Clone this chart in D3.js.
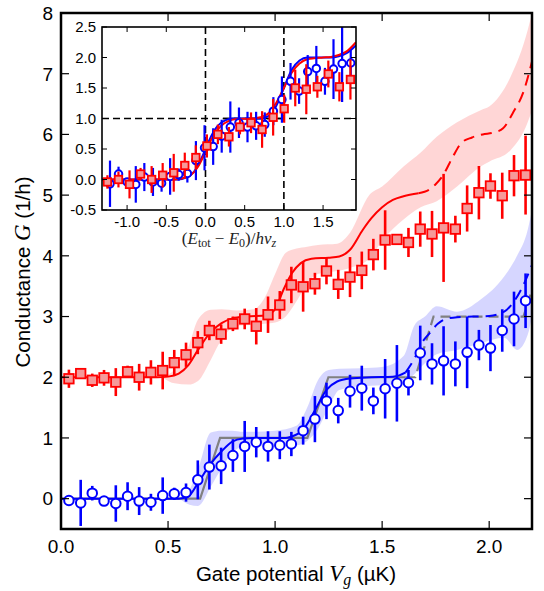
<!DOCTYPE html>
<html><head><meta charset="utf-8">
<script src="https://cdn.jsdelivr.net/npm/d3@7"></script>
<style>body{margin:0;background:#fff}svg{display:block}</style>
</head><body>
<script>
// ---------- DATA ----------
const gateV = [0.037,0.092,0.146,0.201,0.256,0.311,0.365,0.420,0.475,0.529,0.584,0.639,0.693,0.748,0.803,0.858,0.912,0.967,1.022,1.076,1.131,1.186,1.240,1.295,1.350,1.405,1.459,1.514,1.569,1.623,1.678,1.733,1.787,1.842,1.897,1.952,2.006,2.061,2.116,2.170];
const redG = [1.975,2.06,1.95,1.99,1.92,2.09,2.0,2.08,2.11,2.24,2.37,2.57,2.77,2.71,2.88,2.96,2.84,3.03,3.19,3.52,3.49,3.54,3.75,3.53,3.65,3.76,4.02,4.26,4.27,4.22,4.44,4.36,4.46,4.44,4.78,5.04,5.15,4.99,5.32,5.33];
const redErr = [0.15,0.06,0.11,0.13,0.23,0.1,0.22,0.2,0.31,0.21,0.2,0.19,0.16,0.16,0.12,0.17,0.3,0.3,0.23,0.30,0.41,0.18,0.22,0.24,0.33,0.31,0.26,0.49,0.04,0.24,0.29,0.38,0.89,0.22,0.38,0.44,0.21,0.38,0.34,0.65];
const blueG = [-0.03,-0.07,0.09,-0.04,-0.08,0.04,-0.04,-0.06,0.05,0.08,0.1,0.31,0.52,0.54,0.71,0.86,0.93,0.86,0.88,0.9,1.12,1.31,1.61,1.45,1.77,1.82,1.61,1.81,1.9,1.91,2.4,2.22,2.27,2.22,2.41,2.53,2.48,2.77,2.96,3.26];
const blueErr = [0.05,0.38,0.12,0.06,0.3,0.23,0.23,0.14,0.3,0.1,0.15,0.32,0.37,0.3,0.27,0.42,0.25,0.25,0.23,0.2,0.23,0.38,0.3,0.21,0.27,0.37,0.22,0.49,0.63,0.21,0.45,0.34,0.57,0.37,0.59,0.25,0.38,0.35,0.45,0.45];

// fitted curves (V, G)
const redFitV = [0,0.45,0.5,0.55,0.595,0.64,0.696,0.75,0.80,0.87,0.96,1.0,1.04,1.08,1.12,1.17,1.25,1.3,1.35,1.41,1.45,1.5,1.55,1.6,1.67];
const redFitG = [2.0,2.0,2.01,2.06,2.2,2.45,2.73,2.89,2.97,3.0,3.02,3.12,3.45,3.72,3.88,3.95,3.97,3.99,4.1,4.43,4.62,4.8,4.92,4.98,5.03];
const redDashV = [1.67,1.72,1.75,1.785,1.83,1.87,1.92,1.97,2.02,2.065,2.11,2.16,2.2];
const redDashG = [5.03,5.09,5.18,5.33,5.63,5.86,5.95,6.0,6.03,6.1,6.35,6.7,7.2];
const blueFitV = [0,0.55,0.595,0.64,0.696,0.75,0.8,0.85,0.9,1.05,1.09,1.125,1.187,1.24,1.29,1.35,1.45,1.55,1.58,1.61];
const blueFitG = [0,0.0,0.04,0.26,0.56,0.78,0.94,0.99,1.0,1.0,1.04,1.11,1.46,1.79,1.93,1.98,2.0,2.01,2.03,2.08];
const blueDashV = [1.61,1.65,1.69,1.72,1.76,1.79,1.85,2.0,2.07,2.11,2.15,2.2];
const blueDashG = [2.08,2.3,2.59,2.72,2.88,2.95,2.99,3.01,3.08,3.22,3.45,3.85];
const grayV = [0,0.65,0.743,1.151,1.249,1.61];
const grayG = [0,0,1,1,2,2];
const grayDashV = [1.61,1.655,1.74,2.16,2.2];
const grayDashG = [2,2,3,3,3.44];

// uncertainty bands (V, low, high)
const redBandV  = [0.48,0.53,0.595,0.64,0.70,0.75,0.82,0.9,0.95,1.0,1.05,1.1,1.15,1.2,1.29,1.35,1.44,1.5,1.6,1.68,1.755,1.85,1.96,2.0,2.1,2.18,2.2];
const redBandLo = [1.98,1.90,1.88,1.94,2.29,2.62,2.85,2.86,2.88,2.9,3.0,3.25,3.55,3.7,3.75,3.8,3.95,4.25,4.6,4.8,4.9,5.14,5.47,5.55,5.74,6.2,6.4];
const redBandHi = [2.02,2.12,2.5,2.95,3.11,3.12,3.1,3.12,3.3,3.7,4.05,4.12,4.15,4.18,4.2,4.38,5.0,5.14,5.47,5.7,5.96,6.2,6.4,6.46,6.95,7.72,8.0];
const blueBandV  = [0.56,0.6,0.64,0.70,0.75,0.8,0.85,1.0,1.1,1.15,1.2,1.25,1.3,1.4,1.5,1.6,1.65,1.7,1.755,1.85,1.96,2.07,2.13,2.18,2.2];
const blueBandLo = [-0.02,-0.1,-0.12,0.2,0.5,0.75,0.86,0.87,0.88,0.95,1.15,1.5,1.79,1.85,1.87,1.9,2.05,2.23,2.38,2.45,2.56,2.65,2.45,2.7,3.0];
const blueBandHi = [0.03,0.15,0.48,1.09,1.12,1.12,1.1,1.12,1.2,1.5,1.95,2.12,2.14,2.15,2.17,2.35,2.85,3.0,3.17,3.08,3.28,3.66,4.0,4.43,4.76];

// inset data: (E_tot - E0)/h nu_z
const insetRedE = [-1.251,-1.110,-0.969,-0.828,-0.687,-0.546,-0.405,-0.264,-0.123,0.018,0.158,0.299,0.440,0.581,0.722,0.863,1.004,1.145,1.286,1.427,1.567,1.708,1.849];
const insetRedG = [-0.04,0.0,-0.08,0.09,0,0.07,0.11,0.23,0.36,0.55,0.74,0.7,0.86,0.93,0.82,1.02,1.16,1.5,1.48,1.52,1.73,1.52,1.64];
const insetRedErr = [0.11,0.13,0.23,0.1,0.22,0.2,0.31,0.21,0.2,0.19,0.16,0.16,0.12,0.17,0.3,0.3,0.23,0.30,0.41,0.18,0.22,0.24,0.33];
const insetBlueE = [-1.218,-1.109,-0.999,-0.889,-0.780,-0.670,-0.560,-0.451,-0.341,-0.231,-0.122,-0.012,0.098,0.207,0.317,0.427,0.536,0.646,0.756,0.866,0.975,1.085,1.194,1.304,1.414,1.524,1.633,1.743,1.853];
const insetBlueG = [-0.07,0.09,-0.04,-0.08,0.04,-0.04,-0.06,0.05,0.08,0.1,0.31,0.52,0.54,0.71,0.86,0.93,0.86,0.88,0.9,1.12,1.31,1.61,1.45,1.77,1.82,1.61,1.81,1.9,1.91];
const insetBlueErr = [0.38,0.12,0.06,0.3,0.23,0.23,0.14,0.3,0.1,0.15,0.32,0.37,0.3,0.27,0.42,0.25,0.25,0.23,0.2,0.23,0.38,0.3,0.21,0.27,0.37,0.22,0.49,0.63,0.21];
const insetRedFitE = [-1.32,-0.4,-0.3,-0.2,-0.1,0,0.1,0.2,0.3,0.4,0.6,0.7,0.8,0.9,1.0,1.1,1.2,1.3,1.5,1.6,1.7,1.8,1.92];
const insetRedFitG = [0,0,0.02,0.06,0.2,0.45,0.72,0.88,0.96,0.99,1.0,1.02,1.08,1.25,1.5,1.75,1.9,1.97,2.0,2.01,2.04,2.1,2.25];
const insetBlueFitE = [-1.32,-0.35,-0.25,-0.15,-0.05,0,0.05,0.15,0.25,0.35,0.7,0.8,0.9,1.0,1.1,1.2,1.3,1.6,1.7,1.8,1.92];
const insetBlueFitG = [0,0,0.03,0.12,0.35,0.5,0.65,0.87,0.97,1.0,1.0,1.04,1.2,1.5,1.8,1.95,2.0,2.0,2.02,2.07,2.2];

const xTicks = [0,0.5,1.0,1.5,2.0];
const yTicks = [0,1,2,3,4,5,6,7,8];
const insetXTicks = [-1.0,-0.5,0.0,0.5,1.0,1.5];
const insetYTicks = [-0.5,0.0,0.5,1.0,1.5,2.0,2.5];

// ---------- DRAW ----------
const W = 544, H = 591;
const svg = d3.select("body").append("svg").attr("width", W).attr("height", H);
const sans = "'Liberation Sans', Arial, Helvetica, sans-serif";
const serif = "'Liberation Serif', 'DejaVu Serif', serif";

const x = d3.scaleLinear().domain([0, 2.2]).range([61, 532]);
const y = d3.scaleLinear().domain([-0.5, 8]).range([529, 13]);

svg.append("clipPath").attr("id","mainclip").append("rect")
  .attr("x",61).attr("y",13).attr("width",471).attr("height",516);
const plot = svg.append("g").attr("clip-path","url(#mainclip)");

const zip = (a,b) => a.map((v,i)=>[v,b[i]]);
const line = (sx, sy) => d3.line().x(d=>sx(d[0])).y(d=>sy(d[1])).curve(d3.curveMonotoneX);
const area = (sx, sy) => d3.area().x(d=>sx(d[0])).y0(d=>sy(d[1])).y1(d=>sy(d[2])).curve(d3.curveMonotoneX);

// bands
plot.append("path").datum(redBandV.map((v,i)=>[v,redBandLo[i],redBandHi[i]]))
  .attr("d", area(x,y)).attr("fill","#ff0000").attr("fill-opacity",0.16);
plot.append("path").datum(blueBandV.map((v,i)=>[v,blueBandLo[i],blueBandHi[i]]))
  .attr("d", area(x,y)).attr("fill","#0000ff").attr("fill-opacity",0.16);

// gray step
plot.append("path").datum(zip(grayV,grayG)).attr("d", d3.line().x(d=>x(d[0])).y(d=>y(d[1])))
  .attr("fill","none").attr("stroke","#808080").attr("stroke-width",2.2);
plot.append("path").datum(zip(grayDashV,grayDashG)).attr("d", d3.line().x(d=>x(d[0])).y(d=>y(d[1])))
  .attr("fill","none").attr("stroke","#808080").attr("stroke-width",2.2).attr("stroke-dasharray","10,6");

// fits
plot.append("path").datum(zip(redFitV,redFitG)).attr("d", line(x,y))
  .attr("fill","none").attr("stroke","#ff0000").attr("stroke-width",2);
plot.append("path").datum(zip(redDashV,redDashG)).attr("d", line(x,y))
  .attr("fill","none").attr("stroke","#ff0000").attr("stroke-width",2).attr("stroke-dasharray","11,7");
plot.append("path").datum(zip(blueFitV,blueFitG)).attr("d", line(x,y))
  .attr("fill","none").attr("stroke","#0000ff").attr("stroke-width",2);
plot.append("path").datum(zip(blueDashV,blueDashG)).attr("d", line(x,y))
  .attr("fill","none").attr("stroke","#0000ff").attr("stroke-width",2).attr("stroke-dasharray","11,7");

function drawPoints(g, sx, sy, X, Y, E, color, kind, size, ew) {
  g.selectAll(null).data(X.map((v,i)=>[v,Y[i],E[i]])).enter().append("line")
    .attr("x1",d=>sx(d[0])).attr("x2",d=>sx(d[0]))
    .attr("y1",d=>sy(d[1]-d[2])).attr("y2",d=>sy(d[1]+d[2]))
    .attr("stroke",color).attr("stroke-width",ew);
  if (kind === "square") {
    g.selectAll(null).data(X.map((v,i)=>[v,Y[i]])).enter().append("rect")
      .attr("x",d=>sx(d[0])-size/2).attr("y",d=>sy(d[1])-size/2)
      .attr("width",size).attr("height",size)
      .attr("fill","#f59a9a").attr("stroke",color).attr("stroke-width",1.8);
  } else {
    g.selectAll(null).data(X.map((v,i)=>[v,Y[i]])).enter().append("circle")
      .attr("cx",d=>sx(d[0])).attr("cy",d=>sy(d[1])).attr("r",size/2)
      .attr("fill","#fff").attr("stroke",color).attr("stroke-width",2);
  }
}
drawPoints(plot, x, y, gateV, blueG, blueErr, "#0000ff", "circle", 9.5, 2.6);
drawPoints(plot, x, y, gateV, redG, redErr, "#ff0000", "square", 9.5, 2.6);

// main frame and ticks
const axG = svg.append("g");
axG.append("rect").attr("x",61).attr("y",13).attr("width",471).attr("height",516)
  .attr("fill","none").attr("stroke","#000").attr("stroke-width",2.5);
xTicks.forEach(t=>{
  axG.append("line").attr("x1",x(t)).attr("x2",x(t)).attr("y1",529).attr("y2",521).attr("stroke","#000").attr("stroke-width",1.2);
  axG.append("line").attr("x1",x(t)).attr("x2",x(t)).attr("y1",13).attr("y2",21).attr("stroke","#000").attr("stroke-width",1.2);
  axG.append("text").attr("x",x(t)).attr("y",553).attr("text-anchor","middle")
    .attr("font-family",sans).attr("font-size",19).text(d3.format(".1f")(t));
});
yTicks.forEach(t=>{
  axG.append("line").attr("x1",61).attr("x2",69).attr("y1",y(t)).attr("y2",y(t)).attr("stroke","#000").attr("stroke-width",1.2);
  axG.append("line").attr("x1",532).attr("x2",524).attr("y1",y(t)).attr("y2",y(t)).attr("stroke","#000").attr("stroke-width",1.2);
  axG.append("text").attr("x",53).attr("y",y(t)).attr("dy","0.36em").attr("text-anchor","end")
    .attr("font-family",sans).attr("font-size",19).text(t);
});

// axis labels
const xl = svg.append("text").attr("x",296).attr("y",581).attr("text-anchor","middle")
  .attr("font-family",sans).attr("font-size",20.5);
xl.append("tspan").text("Gate potential ");
xl.append("tspan").attr("font-family",serif).attr("font-style","italic").attr("font-size",23).text("V");
xl.append("tspan").attr("font-family",serif).attr("font-style","italic").attr("font-size",16).attr("dy",4).text("g");
xl.append("tspan").attr("dy",-4).text(" (µK)");

const yl = svg.append("text").attr("transform","translate(30,272) rotate(-90)").attr("text-anchor","middle")
  .attr("font-family",sans).attr("font-size",20.5);
yl.append("tspan").text("Conductance ");
yl.append("tspan").attr("font-family",serif).attr("font-style","italic").attr("font-size",23).text("G");
yl.append("tspan").text(" (1/h)");

// ---------- INSET ----------
const ix = d3.scaleLinear().domain([-1.32, 1.92]).range([102, 356]);
const iy = d3.scaleLinear().domain([-0.5, 2.5]).range([210, 27]);
svg.append("rect").attr("x",102).attr("y",27).attr("width",254).attr("height",183).attr("fill","#fff");
svg.append("clipPath").attr("id","insclip").append("rect")
  .attr("x",102).attr("y",27).attr("width",254).attr("height",183);
const ins = svg.append("g").attr("clip-path","url(#insclip)");

const dashAttr = (s)=> s.attr("stroke","#000").attr("stroke-width",1.6).attr("stroke-dasharray","7,4").attr("fill","none");
dashAttr(ins.append("line").attr("x1",ix(-1.32)).attr("x2",ix(1.92)).attr("y1",iy(1)).attr("y2",iy(1)));
dashAttr(ins.append("line").attr("x1",ix(0)).attr("x2",ix(0)).attr("y1",iy(-0.5)).attr("y2",iy(2.5)));
dashAttr(ins.append("line").attr("x1",ix(1)).attr("x2",ix(1)).attr("y1",iy(-0.5)).attr("y2",iy(2.5)));
ins.append("line").attr("x1",ix(0.22)).attr("x2",ix(1)).attr("y1",iy(1)).attr("y2",iy(1)).attr("stroke","#000").attr("stroke-width",1.6);

ins.append("path").datum(zip(insetBlueFitE,insetBlueFitG)).attr("d", line(ix,iy))
  .attr("fill","none").attr("stroke","#0000ff").attr("stroke-width",2);
ins.append("path").datum(zip(insetRedFitE,insetRedFitG)).attr("d", line(ix,iy))
  .attr("fill","none").attr("stroke","#ff0000").attr("stroke-width",2);

drawPoints(ins, ix, iy, insetBlueE, insetBlueG, insetBlueErr, "#0000ff", "circle", 7.5, 2.2);
drawPoints(ins, ix, iy, insetRedE, insetRedG, insetRedErr, "#ff0000", "square", 7.5, 2.2);

const iax = svg.append("g");
iax.append("rect").attr("x",102).attr("y",27).attr("width",254).attr("height",183)
  .attr("fill","none").attr("stroke","#000").attr("stroke-width",1.6);
insetXTicks.forEach(t=>{
  iax.append("line").attr("x1",ix(t)).attr("x2",ix(t)).attr("y1",210).attr("y2",205).attr("stroke","#000");
  iax.append("line").attr("x1",ix(t)).attr("x2",ix(t)).attr("y1",27).attr("y2",32).attr("stroke","#000");
  iax.append("text").attr("x",ix(t)).attr("y",227).attr("text-anchor","middle")
    .attr("font-family",sans).attr("font-size",15).text(d3.format(".1f")(t).replace("−","-"));
});
insetYTicks.forEach(t=>{
  iax.append("line").attr("x1",102).attr("x2",107).attr("y1",iy(t)).attr("y2",iy(t)).attr("stroke","#000");
  iax.append("line").attr("x1",356).attr("x2",351).attr("y1",iy(t)).attr("y2",iy(t)).attr("stroke","#000");
  iax.append("text").attr("x",96).attr("y",iy(t)).attr("dy","0.36em").attr("text-anchor","end")
    .attr("font-family",sans).attr("font-size",15).text(d3.format(".1f")(t).replace("−","-"));
});

const il = svg.append("text").attr("x",229).attr("y",244).attr("text-anchor","middle")
  .attr("font-family",serif).attr("font-size",17).attr("fill","#222");
il.append("tspan").text("(");
il.append("tspan").attr("font-style","italic").text("E");
il.append("tspan").attr("font-size",12).attr("dy",3).text("tot");
il.append("tspan").attr("dy",-3).text(" − ");
il.append("tspan").attr("font-style","italic").text("E");
il.append("tspan").attr("font-size",12).attr("dy",3).text("0");
il.append("tspan").attr("dy",-3).text(")/");
il.append("tspan").attr("font-style","italic").text("hν");
il.append("tspan").attr("font-style","italic").attr("font-size",12).attr("dy",3).text("z");
</script>
</body></html>
